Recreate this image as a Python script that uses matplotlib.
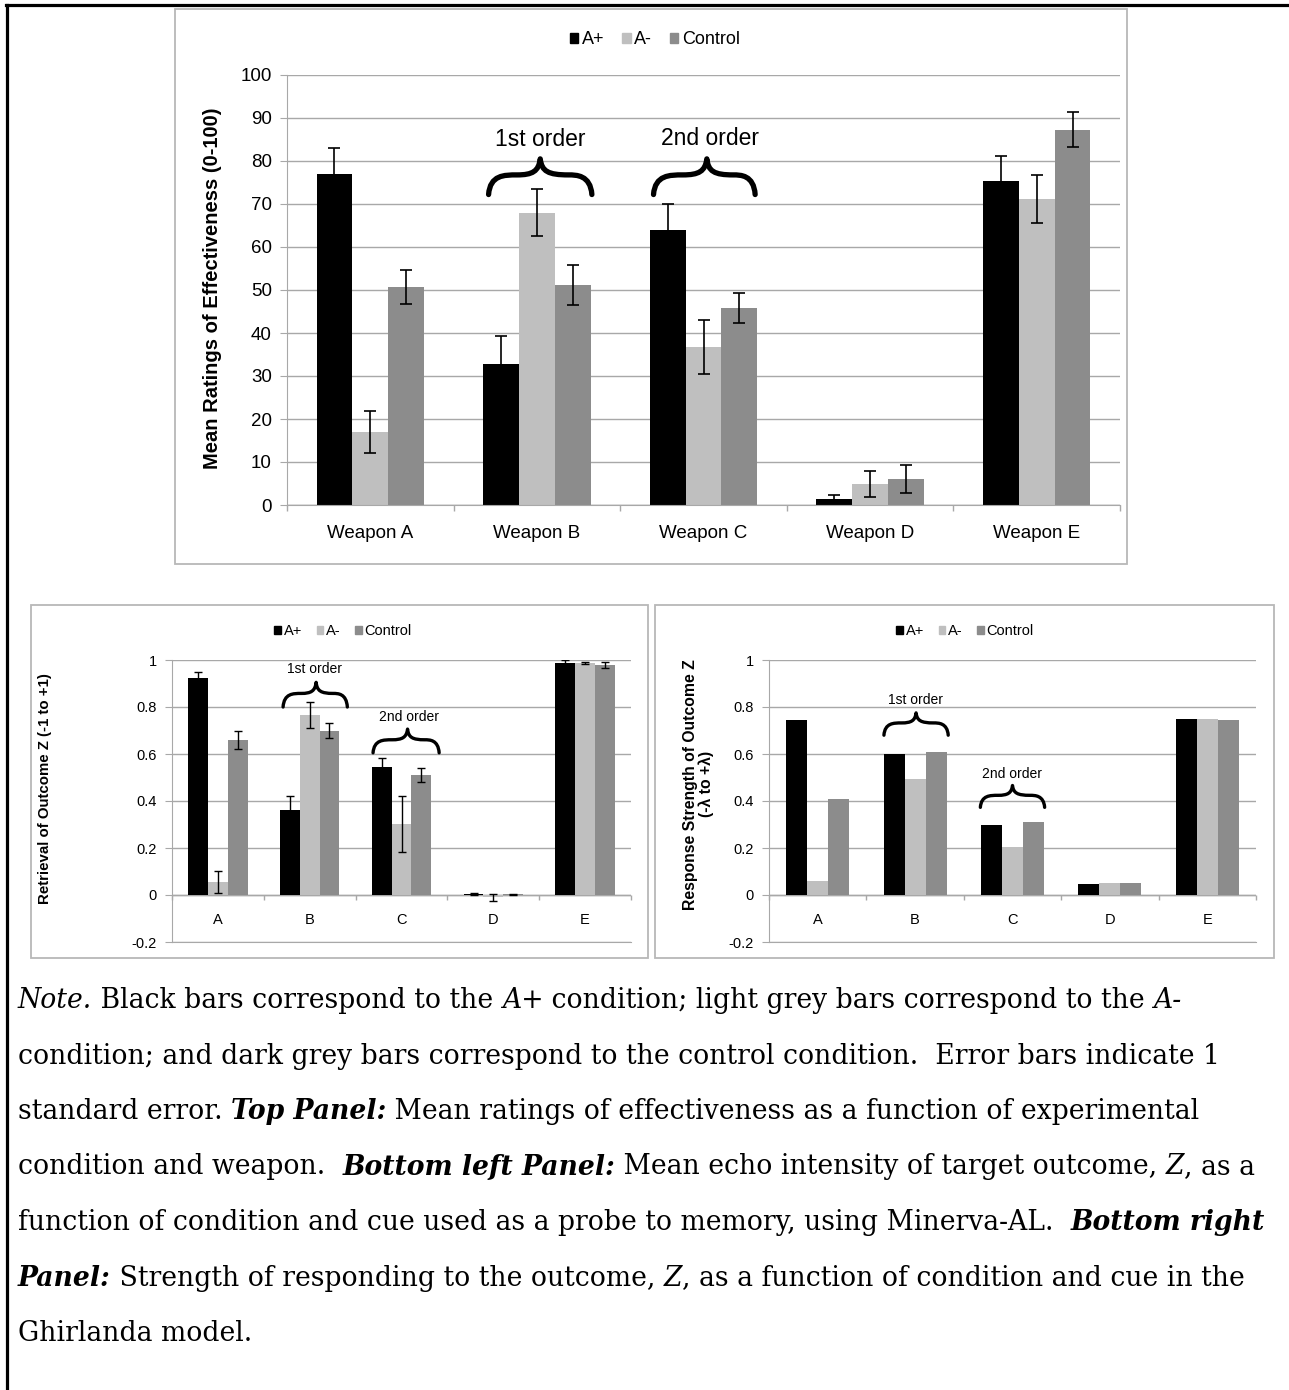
import numpy as np
import matplotlib.pyplot as plt
from matplotlib.path import Path
from matplotlib.patches import PathPatch, Rectangle
from matplotlib.lines import Line2D

# ---------------------------------------------------------------
# data
# ---------------------------------------------------------------
conditions = ["A+", "A-", "Control"]
colors = ["#000000", "#bfbfbf", "#8c8c8c"]

weapons = ["Weapon A", "Weapon B", "Weapon C", "Weapon D", "Weapon E"]
cues = ["A", "B", "C", "D", "E"]

# top panel: mean ratings (0-100) and standard errors
ratings_aplus = [76.9, 32.7, 63.9, 1.5, 75.4]
ratings_aminus = [17.0, 68.0, 36.8, 4.9, 71.1]
ratings_control = [50.7, 51.2, 45.8, 6.0, 87.3]
se_aplus = [6.1, 6.6, 6.1, 0.9, 5.8]
se_aminus = [4.9, 5.5, 6.3, 3.0, 5.6]
se_control = [3.9, 4.6, 3.4, 3.3, 4.0]

# bottom left: Minerva-AL retrieval of outcome Z
minerva_aplus = [0.925, 0.36, 0.545, 0.004, 0.986]
minerva_aminus = [0.055, 0.766, 0.303, -0.010, 0.987]
minerva_control = [0.66, 0.70, 0.51, 0.004, 0.980]
minerva_se_aplus = [0.025, 0.063, 0.040, 0.003, 0.012]
minerva_se_aminus = [0.047, 0.054, 0.120, 0.016, 0.004]
minerva_se_control = [0.039, 0.034, 0.030, 0.002, 0.012]

# bottom right: Ghirlanda model response strength
ghirlanda_aplus = [0.745, 0.600, 0.296, 0.047, 0.748]
ghirlanda_aminus = [0.059, 0.494, 0.204, 0.052, 0.748]
ghirlanda_control = [0.407, 0.607, 0.311, 0.050, 0.745]

note_lines = [
    [("Note.", "i"), (" Black bars correspond to the ", "r"), ("A+", "i"),
     (" condition; light grey bars correspond to the ", "r"), ("A-", "i")],
    [("condition; and dark grey bars correspond to the control condition.  Error bars indicate 1", "r")],
    [("standard error. ", "r"), ("Top Panel:", "bi"),
     (" Mean ratings of effectiveness as a function of experimental", "r")],
    [("condition and weapon.  ", "r"), ("Bottom left Panel:", "bi"),
     (" Mean echo intensity of target outcome, ", "r"), ("Z", "i"), (", as a", "r")],
    [("function of condition and cue used as a probe to memory, using Minerva-AL.  ", "r"),
     ("Bottom right", "bi")],
    [("Panel:", "bi"), (" Strength of responding to the outcome, ", "r"), ("Z", "i"),
     (", as a function of condition and cue in the", "r")],
    [("Ghirlanda model.", "r")],
]

# ---------------------------------------------------------------
# figure setup
# ---------------------------------------------------------------
W, H = 1289, 1390
plt.rcParams["font.family"] = ["Liberation Sans", "DejaVu Sans"]
fig = plt.figure(figsize=(W / 100, H / 100), dpi=100)

GRID = "#a8a8a8"
BOX = "#b8b8b8"
BAR_W = 0.215


def px_axes(x0, x1, ytop, ybot):
    return fig.add_axes([x0 / W, 1 - ybot / H, (x1 - x0) / W, (ybot - ytop) / H])


def px_rect(x0, y0, x1, y1, **kw):
    fig.add_artist(Rectangle((x0 / W, 1 - y1 / H), (x1 - x0) / W, (y1 - y0) / H,
                             transform=fig.transFigure, fill=False, **kw))


def brace(ax, xl, xr, xtip, ybot, ytop, lw):
    h = ytop - ybot
    ym = ybot + 0.55 * h
    lw_l = xtip - xl
    lw_r = xr - xtip
    verts = [
        (xl, ybot),
        (xl + 0.03 * lw_l, ym), (xl + 0.3 * lw_l, ym), (xl + 0.55 * lw_l, ym),
        (xl + 0.85 * lw_l, ym), (xtip - 0.03 * lw_l, ym + 0.1 * h), (xtip, ytop),
        (xtip + 0.03 * lw_r, ym + 0.1 * h), (xr - 0.85 * lw_r, ym), (xr - 0.45 * lw_r, ym),
        (xr - 0.3 * lw_r, ym), (xr - 0.03 * lw_r, ym), (xr, ybot),
    ]
    codes = [Path.MOVETO] + [Path.CURVE4] * 12
    ax.add_patch(PathPatch(Path(verts, codes), fill=False, lw=lw, color="black",
                           capstyle="round", joinstyle="round", clip_on=False))


def style_axes(ax, ymin, ymax, step, tick_size, labels, label_y, label_size, tick_depth):
    ax.set_xlim(-0.5, 4.5)
    ax.set_ylim(ymin, ymax)
    ax.set_yticks(np.round(np.arange(ymin, ymax + step / 2, step), 2))
    ax.yaxis.grid(True, color=GRID, lw=1.0)
    ax.set_axisbelow(True)
    for s in ["top", "right"]:
        ax.spines[s].set_visible(False)
    ax.spines["left"].set_color(GRID)
    ax.spines["bottom"].set_color(GRID)
    ax.tick_params(axis="y", length=5, color=GRID, labelsize=tick_size, pad=6)
    ax.set_xticks([])
    # zero axis with tick marks between categories
    ax.axhline(0, color=GRID, lw=1.0, zorder=1)
    ax.vlines(np.arange(-0.5, 5, 1), 0, -tick_depth, color=GRID, lw=1.0, clip_on=False)
    for i, lab in enumerate(labels):
        ax.text(i, label_y, lab, ha="center", va="center", fontsize=label_size)


def draw_bars(ax, series, errors, cap, elw):
    x = np.arange(5)
    for k, vals in enumerate(series):
        pos = x + (k - 1) * BAR_W
        ax.bar(pos, vals, width=BAR_W, color=colors[k], zorder=2)
        if errors is not None:
            ax.errorbar(pos, vals, yerr=errors[k], fmt="none", ecolor="black",
                        elinewidth=elw, capsize=cap, capthick=elw, zorder=3)


def legend(ax, cx, cy, size):
    handles = [Rectangle((0, 0), 1, 1, color=c) for c in colors]
    ax.legend(handles, conditions, loc="center", bbox_to_anchor=(cx / W, 1 - cy / H),
              bbox_transform=fig.transFigure, ncol=3, frameon=False, fontsize=size,
              handlelength=0.45, handleheight=0.45, handletextpad=0.2,
              columnspacing=1.0, borderpad=0)


# outer cell border
fig.add_artist(Line2D([6 / W, 1], [1 - 5 / H, 1 - 5 / H], color="black", lw=2.3,
                      transform=fig.transFigure))
fig.add_artist(Line2D([7 / W, 7 / W], [1 - 5 / H, 0], color="black", lw=2.3,
                      transform=fig.transFigure))

# ---------------------------------------------------------------
# top panel
# ---------------------------------------------------------------
px_rect(175, 9, 1127, 564, edgecolor=BOX, lw=1.3)
ax1 = px_axes(287, 1120, 75, 505)
style_axes(ax1, 0, 100, 10, 13.5, weapons, -6.6, 13.5, 1.3)
draw_bars(ax1, [ratings_aplus, ratings_aminus, ratings_control],
          [se_aplus, se_aminus, se_control], cap=4, elw=1.2)
ax1.set_ylabel("Mean Ratings of Effectiveness (0-100)", fontsize=14.5, weight="bold")
ax1.yaxis.set_label_coords(-0.078, 0.505)
legend(ax1, 655, 40, 13)
brace(ax1, 0.71, 1.33, 1.02, 72.2, 80.5, 3.8)
ax1.text(1.02, 84.9, "1st order", ha="center", va="center", fontsize=16.5)
brace(ax1, 1.70, 2.31, 2.02, 72.2, 80.5, 3.8)
ax1.text(2.04, 85.3, "2nd order", ha="center", va="center", fontsize=16.5)

# ---------------------------------------------------------------
# bottom left panel: Minerva-AL
# ---------------------------------------------------------------
px_rect(31, 605, 648, 958, edgecolor=BOX, lw=1.3)
ax2 = px_axes(172, 631, 660, 942)
style_axes(ax2, -0.2, 1.0, 0.2, 10.5, cues, -0.106, 10.5, 0.022)
draw_bars(ax2, [minerva_aplus, minerva_aminus, minerva_control],
          [minerva_se_aplus, minerva_se_aminus, minerva_se_control], cap=3, elw=1.0)
ax2.set_ylabel("Retrieval of Outcome Z (-1 to +1)", fontsize=10.8, weight="bold")
ax2.yaxis.set_label_coords(-0.262, 0.545)
ax2.set_yticklabels(["-0.2", "0", "0.2", "0.4", "0.6", "0.8", "1"])
legend(ax2, 343, 631, 10.5)
brace(ax2, 0.71, 1.41, 1.07, 0.80, 0.905, 2.4)
ax2.text(1.05, 0.96, "1st order", ha="center", va="center", fontsize=10)
brace(ax2, 1.69, 2.41, 2.066, 0.605, 0.706, 2.4)
ax2.text(2.08, 0.757, "2nd order", ha="center", va="center", fontsize=10)

# ---------------------------------------------------------------
# bottom right panel: Ghirlanda model
# ---------------------------------------------------------------
px_rect(655, 605, 1274, 958, edgecolor=BOX, lw=1.3)
ax3 = px_axes(769, 1256, 660, 942)
style_axes(ax3, -0.2, 1.0, 0.2, 10.5, cues, -0.106, 10.5, 0.022)
draw_bars(ax3, [ghirlanda_aplus, ghirlanda_aminus, ghirlanda_control], None, 0, 0)
ax3.set_ylabel("Response Strength of Outcome Z\n(-\u03bb to +\u03bb)", fontsize=11.3,
               weight="bold", linespacing=1.1)
ax3.yaxis.set_label_coords(-0.112, 0.56)
ax3.set_yticklabels(["-0.2", "0", "0.2", "0.4", "0.6", "0.8", "1"])
legend(ax3, 965, 631, 10.5)
brace(ax3, 0.68, 1.34, 1.01, 0.68, 0.775, 2.4)
ax3.text(1.0, 0.83, "1st order", ha="center", va="center", fontsize=10)
brace(ax3, 1.67, 2.33, 2.0, 0.373, 0.466, 2.4)
ax3.text(2.0, 0.517, "2nd order", ha="center", va="center", fontsize=10)

# ---------------------------------------------------------------
# caption with mixed styles, laid out run by run
# ---------------------------------------------------------------
SERIF = ["DejaVu Serif"]
NOTE_SIZE = 19.2
run_props = {
    "r": dict(style="normal", weight="normal"),
    "i": dict(style="italic", weight="normal"),
    "bi": dict(style="italic", weight="bold"),
}
renderer = fig.canvas.get_renderer()


def text_width(s, props):
    t1 = fig.text(0, 0, "|" + s + "|", family=SERIF, fontsize=NOTE_SIZE, **props)
    t2 = fig.text(0, 0, "||", family=SERIF, fontsize=NOTE_SIZE, **props)
    w = t1.get_window_extent(renderer).width - t2.get_window_extent(renderer).width
    t1.remove()
    t2.remove()
    return w


for li, runs in enumerate(note_lines):
    x = 18.0
    y = 1008 + li * 55.5
    for s, kind in runs:
        props = run_props[kind]
        fig.text(x / W, 1 - y / H, s, family=SERIF, fontsize=NOTE_SIZE,
                 va="baseline", ha="left", **props)
        x += text_width(s, props)

fig.savefig("out.png", dpi=100)
